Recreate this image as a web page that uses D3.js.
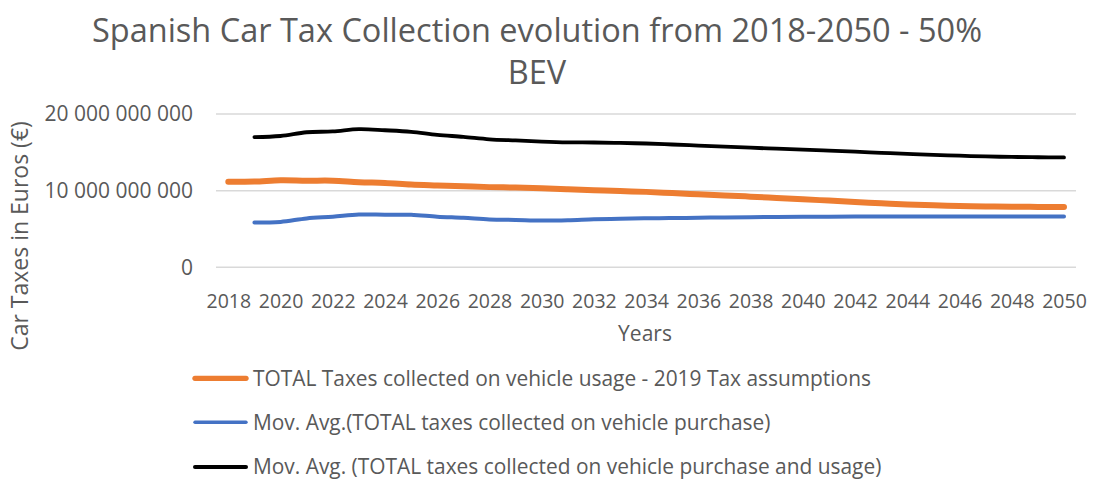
<!DOCTYPE html>
<html>
<head>
<meta charset="utf-8">
<script src="https://cdn.jsdelivr.net/npm/d3@7"></script>
<style>
  html, body { margin: 0; padding: 0; background: #fff; }
  svg { display: block; font-family: "Open Sans", sans-serif; }
</style>
</head>
<body>
<svg id="chart" width="1095" height="480"></svg>
<script>
// Years on the category axis
const years = d3.range(2018, 2051);
const tickYears = years.filter(y => (y - 2018) % 2 === 0);
const yTicks = [0, 10e9, 20e9];

// TOTAL taxes collected on vehicle usage (2019 tax assumptions), euros, 2018-2050
const usageTaxes = [
  11.15e9, 11.18e9, 11.35e9, 11.30e9, 11.30e9, 11.10e9, 11.00e9, 10.80e9, 10.68e9, 10.57e9,
  10.46e9, 10.40e9, 10.30e9, 10.18e9, 10.05e9, 9.95e9, 9.84e9, 9.68e9, 9.53e9, 9.38e9,
  9.22e9, 9.05e9, 8.88e9, 8.70e9, 8.52e9, 8.36e9, 8.20e9, 8.08e9, 7.99e9, 7.93e9,
  7.90e9, 7.88e9, 7.87e9
];

// Moving average of taxes on vehicle purchase, euros (no value for 2018)
const purchaseMovAvg = [
  null, 5.83e9, 5.92e9, 6.38e9, 6.60e9, 6.88e9, 6.86e9, 6.85e9, 6.60e9, 6.45e9,
  6.25e9, 6.18e9, 6.10e9, 6.14e9, 6.26e9, 6.33e9, 6.40e9, 6.42e9, 6.47e9, 6.50e9,
  6.54e9, 6.57e9, 6.60e9, 6.61e9, 6.62e9, 6.62e9, 6.62e9, 6.62e9, 6.62e9, 6.62e9,
  6.62e9, 6.62e9, 6.62e9
];

// Moving average of taxes on vehicle purchase and usage, euros (no value for 2018)
const totalMovAvg = [
  null, 16.99e9, 17.13e9, 17.62e9, 17.72e9, 18.02e9, 17.88e9, 17.68e9, 17.28e9, 17.02e9,
  16.70e9, 16.55e9, 16.40e9, 16.30e9, 16.28e9, 16.22e9, 16.15e9, 16.02e9, 15.88e9, 15.74e9,
  15.60e9, 15.47e9, 15.34e9, 15.22e9, 15.08e9, 14.93e9, 14.80e9, 14.68e9, 14.56e9, 14.46e9,
  14.40e9, 14.36e9, 14.33e9
];

const seriesNames = [
  "TOTAL Taxes collected on vehicle usage - 2019 Tax assumptions",
  "Mov. Avg.(TOTAL taxes collected on vehicle purchase)",
  "Mov. Avg. (TOTAL taxes collected on vehicle purchase and usage)"
];
const seriesValues = [usageTaxes, purchaseMovAvg, totalMovAvg];
const seriesColors = ["#ED7D31", "#4472C4", "#000000"];
const seriesWidths = [6, 4, 3.8];
const legendWidths = [5.3, 3.4, 4];

const titleLines = ["Spanish Car Tax Collection evolution from 2018-2050 - 50%", "BEV"];
const xTitle = "Years";
const yTitle = "Car Taxes in Euros (€)";

const textColor = "#595959";
const svg = d3.select("#chart");

// Plot area
const plot = { left: 216, right: 1076, top: 114, bottom: 267.3 };

const x = d3.scalePoint()
  .domain(years)
  .range([228.3, 1064]);

const y = d3.scaleLinear()
  .domain([0, 20e9])
  .range([plot.bottom, plot.top]);

const fmt = v => d3.format(",")(v).replace(/,/g, " ");

// Horizontal gridlines
svg.append("g")
  .selectAll("line")
  .data(yTicks)
  .join("line")
  .attr("x1", plot.left)
  .attr("x2", plot.right)
  .attr("y1", d => y(d))
  .attr("y2", d => y(d))
  .attr("stroke", "#d9d9d9")
  .attr("stroke-width", 1.5);

// Y axis labels
const yAxis = svg.append("g")
  .attr("transform", `translate(${plot.left},0)`)
  .call(d3.axisLeft(y).tickValues(yTicks).tickFormat(fmt).tickSize(0).tickPadding(23));
yAxis.select(".domain").remove();
yAxis.selectAll("text")
  .attr("fill", textColor)
  .style("font-family", "'Open Sans', sans-serif")
  .style("font-size", "21px");

// X axis labels
const xAxis = svg.append("g")
  .attr("transform", `translate(0,${plot.bottom})`)
  .call(d3.axisBottom(x).tickValues(tickYears).tickSize(0).tickPadding(27));
xAxis.select(".domain").remove();
xAxis.selectAll("text")
  .attr("fill", textColor)
  .style("font-family", "'Open Sans', sans-serif")
  .style("font-size", "19.5px");

// Series lines
const line = d3.line()
  .defined(d => d.v !== null)
  .x(d => x(d.year))
  .y(d => y(d.v))
  .curve(d3.curveCatmullRom.alpha(0.5));

// Draw order: blue, black, orange on top
[1, 2, 0].forEach(i => {
  const pts = years.map((yr, j) => ({ year: yr, v: seriesValues[i][j] }));
  svg.append("path")
    .datum(pts)
    .attr("fill", "none")
    .attr("stroke", seriesColors[i])
    .attr("stroke-width", seriesWidths[i])
    .attr("stroke-linecap", "round")
    .attr("stroke-linejoin", "round")
    .attr("d", line);
});

// Title
svg.append("g")
  .selectAll("text")
  .data(titleLines)
  .join("text")
  .attr("x", 537)
  .attr("y", (d, i) => 42 + i * 42)
  .attr("text-anchor", "middle")
  .attr("fill", textColor)
  .style("font-size", "32.5px")
  .text(d => d);

// Axis titles
svg.append("text")
  .attr("x", 645)
  .attr("y", 341)
  .attr("text-anchor", "middle")
  .attr("fill", textColor)
  .style("font-size", "21px")
  .text(xTitle);

svg.append("text")
  .attr("transform", "translate(28,236) rotate(-90)")
  .attr("text-anchor", "middle")
  .attr("fill", textColor)
  .style("font-size", "23px")
  .text(yTitle);

// Legend
const legendY = [378.3, 422.3, 467];
const legend = svg.append("g");
seriesNames.forEach((name, i) => {
  legend.append("line")
    .attr("x1", 195).attr("x2", 246)
    .attr("y1", legendY[i]).attr("y2", legendY[i])
    .attr("stroke", seriesColors[i])
    .attr("stroke-width", legendWidths[i])
    .attr("stroke-linecap", "round");
  legend.append("text")
    .attr("x", 253)
    .attr("y", legendY[i])
    .attr("dy", "0.35em")
    .attr("fill", textColor)
    .style("font-size", "20.9px")
    .text(name);
});
</script>
</body>
</html>
